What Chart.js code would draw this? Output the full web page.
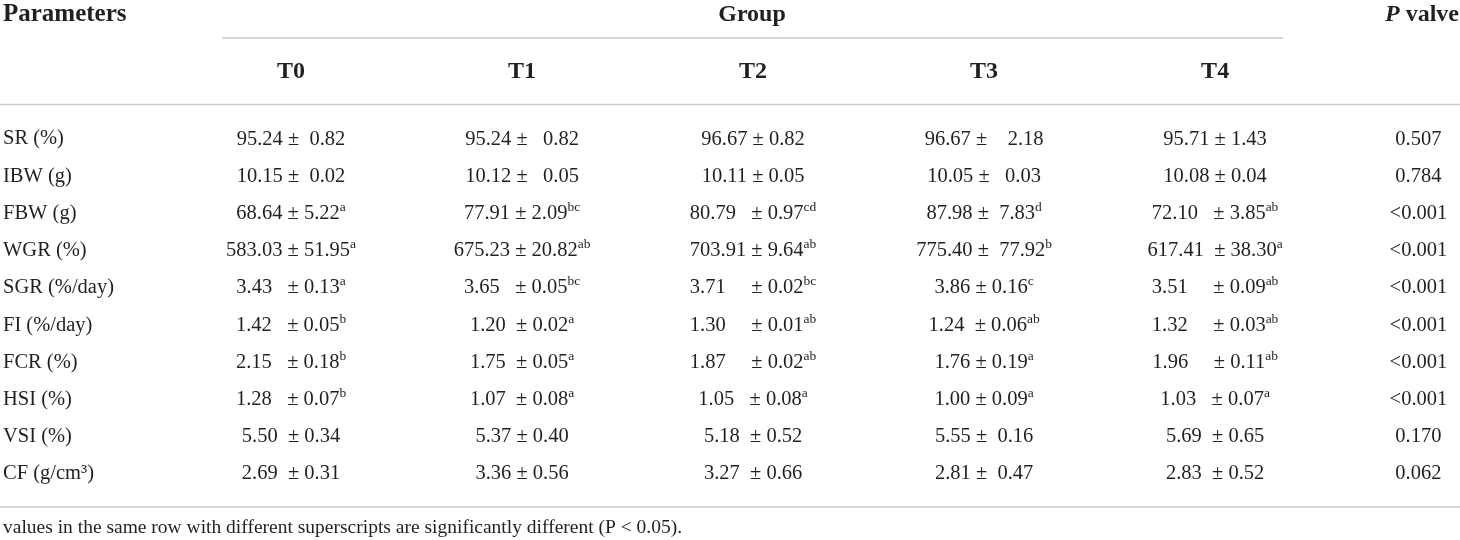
<!DOCTYPE html>
<html>
<head>
<meta charset="utf-8">
<script src="https://cdn.jsdelivr.net/npm/chart.js@4.4.1/dist/chart.umd.min.js"></script>
<style>
  html, body { margin: 0; padding: 0; background: #fff; }
  #table { display: block; }
</style>
</head>
<body>
<canvas id="table" width="1460" height="540"></canvas>
<script>
// table content
const params = ['SR (%)', 'IBW (g)', 'FBW (g)', 'WGR (%)', 'SGR (%/day)', 'FI (%/day)', 'FCR (%)', 'HSI (%)', 'VSI (%)', 'CF (g/cm³)'];
const groups = ['T0', 'T1', 'T2', 'T3', 'T4'];

const t0Cells = ['95.24 ±  0.82', '10.15 ±  0.02', '68.64 ± 5.22', '583.03 ± 51.95', '3.43   ± 0.13', '1.42   ± 0.05', '2.15   ± 0.18', '1.28   ± 0.07', '5.50  ± 0.34', '2.69  ± 0.31'];
const t0Sup = ['', '', 'a', 'a', 'a', 'b', 'b', 'b', '', ''];

const t1Cells = ['95.24 ±   0.82', '10.12 ±   0.05', '77.91 ± 2.09', '675.23 ± 20.82', '3.65   ± 0.05', '1.20  ± 0.02', '1.75  ± 0.05', '1.07  ± 0.08', '5.37 ± 0.40', '3.36 ± 0.56'];
const t1Sup = ['', '', 'bc', 'ab', 'bc', 'a', 'a', 'a', '', ''];

const t2Cells = ['96.67 ± 0.82', '10.11 ± 0.05', '80.79   ± 0.97', '703.91 ± 9.64', '3.71     ± 0.02', '1.30     ± 0.01', '1.87     ± 0.02', '1.05   ± 0.08', '5.18  ± 0.52', '3.27  ± 0.66'];
const t2Sup = ['', '', 'cd', 'ab', 'bc', 'ab', 'ab', 'a', '', ''];

const t3Cells = ['96.67 ±    2.18', '10.05 ±   0.03', '87.98 ±  7.83', '775.40 ±  77.92', '3.86 ± 0.16', '1.24  ± 0.06', '1.76 ± 0.19', '1.00 ± 0.09', '5.55 ±  0.16', '2.81 ±  0.47'];
const t3Sup = ['', '', 'd', 'b', 'c', 'ab', 'a', 'a', '', ''];

const t4Cells = ['95.71 ± 1.43', '10.08 ± 0.04', '72.10   ± 3.85', '617.41  ± 38.30', '3.51     ± 0.09', '1.32     ± 0.03', '1.96     ± 0.11', '1.03   ± 0.07', '5.69  ± 0.65', '2.83  ± 0.52'];
const t4Sup = ['', '', 'ab', 'a', 'ab', 'ab', 'ab', 'a', '', ''];

const pValues = ['0.507', '0.784', '<0.001', '<0.001', '<0.001', '<0.001', '<0.001', '<0.001', '0.170', '0.062'];

const footnote = 'values in the same row with different superscripts are significantly different (P < 0.05).';

// layout
const colX = [0, 1, 2, 3, 4, 4.88];
const ink = '#231f20';
const rule = '#c9c9c9';
const serif = '"Liberation Serif", "DejaVu Serif", serif';

const cellCols = [t0Cells, t1Cells, t2Cells, t3Cells, t4Cells];
const supCols = [t0Sup, t1Sup, t2Sup, t3Sup, t4Sup];

const datasets = cellCols.map((cells, c) => ({
  label: groups[c],
  data: params.map(p => ({ x: colX[c], y: p })),
  cells: cells,
  sups: supCols[c],
  pointRadius: 0
}));
datasets.push({
  label: 'P valve',
  data: params.map(p => ({ x: colX[5], y: p })),
  cells: pValues,
  sups: pValues.map(() => ''),
  pointRadius: 0
});

function hline(ctx, x1, x2, y) {
  ctx.beginPath();
  ctx.moveTo(x1, y);
  ctx.lineTo(x2, y);
  ctx.stroke();
}

const tablePlugin = {
  id: 'tableText',
  afterDatasetsDraw(chart) {
    const { ctx, scales: { x } } = chart;
    ctx.save();
    ctx.fillStyle = ink;
    ctx.textBaseline = 'alphabetic';

    // rules
    ctx.strokeStyle = rule;
    ctx.lineWidth = 1.5;
    hline(ctx, 222, 1283, 38);
    hline(ctx, 0, 1460, 104.5);
    hline(ctx, 0, 1460, 507);

    // header
    ctx.font = 'bold 25px ' + serif;
    ctx.textAlign = 'left';
    ctx.fillText('Parameters', 3, 21);
    ctx.font = 'bold 24px ' + serif;
    ctx.textAlign = 'center';
    ctx.fillText('Group', 752, 21);
    groups.forEach((g, c) => ctx.fillText(g, x.getPixelForValue(colX[c]), 78));

    ctx.textAlign = 'left';
    ctx.font = 'bold 24px ' + serif;
    const wVal = ctx.measureText(' valve').width;
    ctx.font = 'italic bold 24px ' + serif;
    const wP = ctx.measureText('P').width;
    const px = 1459 - wVal - wP;
    ctx.fillText('P', px, 21);
    ctx.font = 'bold 24px ' + serif;
    ctx.fillText(' valve', px + wP, 21);

    // cells
    chart.data.datasets.forEach((ds, d) => {
      chart.getDatasetMeta(d).data.forEach((pt, i) => {
        const main = ds.cells[i];
        const sup = ds.sups[i];
        ctx.font = '20.5px ' + serif;
        const wm = ctx.measureText(main).width;
        ctx.font = '13.5px ' + serif;
        const ws = sup ? ctx.measureText(sup).width : 0;
        const left = pt.x - (wm + ws) / 2;
        const base = pt.y + 7.5;
        ctx.textAlign = 'left';
        ctx.font = '20.5px ' + serif;
        ctx.fillText(main, left, base);
        if (sup) {
          ctx.font = '13.5px ' + serif;
          ctx.fillText(sup, left + wm, base - 8);
        }
      });
    });

    // footnote
    ctx.font = '19.5px ' + serif;
    ctx.textAlign = 'left';
    ctx.fillText(footnote, 3, 533);
    ctx.restore();
  }
};

new Chart(document.getElementById('table'), {
  type: 'scatter',
  data: { labels: params, datasets: datasets },
  options: {
    responsive: false,
    animation: false,
    layout: { padding: { left: 3, right: 0, top: 118.4, bottom: 49.4 } },
    plugins: { legend: { display: false }, tooltip: { enabled: false } },
    scales: {
      x: { type: 'linear', display: false, min: -0.511, max: 5.06 },
      y: {
        type: 'category',
        labels: params,
        offset: true,
        grid: { display: false },
        border: { display: false },
        afterFit: scale => { scale.width = 170; },
        ticks: {
          crossAlign: 'far',
          padding: 0,
          labelOffset: 2,
          color: ink,
          font: { family: serif, size: 20.5 }
        }
      }
    }
  },
  plugins: [tablePlugin]
});
</script>
</body>
</html>
